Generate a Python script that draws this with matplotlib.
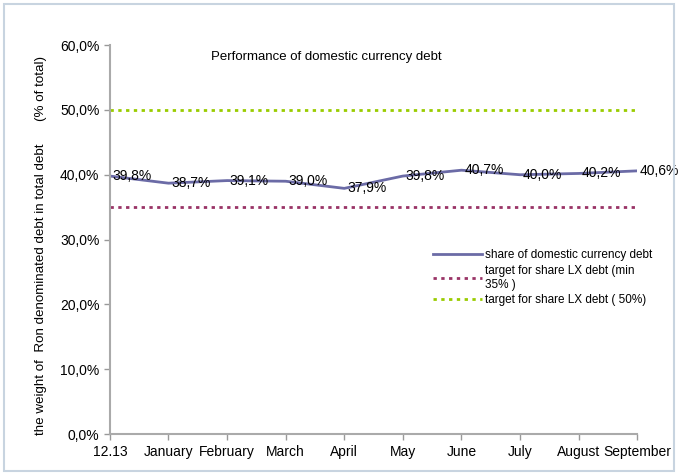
import matplotlib
matplotlib.use("Agg")
import matplotlib.pyplot as plt
from matplotlib.patches import Rectangle
from matplotlib.ticker import FuncFormatter

# ── data ──────────────────────────────────────────────────────────────────────
months = ["12.13", "January", "February", "March", "April", "May",
          "June", "July", "August", "September"]
share = [39.8, 38.7, 39.1, 39.0, 37.9, 39.8, 40.7, 40.0, 40.2, 40.6]
target_min = 35.0
target_max = 50.0

LINE_C = "#6b6ba6"
MIN_C = "#993366"
MAX_C = "#99cc00"

plt.rcParams["font.family"] = ["Liberation Sans", "DejaVu Sans"]

fig = plt.figure(figsize=(6.78, 4.74), dpi=100)
ax = fig.add_axes([0.162, 0.084, 0.778, 0.821])

x = list(range(len(months)))
ax.plot(x, share, color=LINE_C, linewidth=2, label="share of domestic currency debt")
ax.plot(x, [target_min] * len(x), color=MIN_C, linestyle=(0, (1.2, 1.6)),
        linewidth=2, label="target for share LX debt (min\n35% )")
ax.plot(x, [target_max] * len(x), color=MAX_C, linestyle=(0, (1.2, 1.6)),
        linewidth=2, label="target for share LX debt ( 50%)")

for xi, v in zip(x, share):
    ax.annotate(f"{v:.1f}%".replace(".", ","), (xi, v), xytext=(2, 0),
                textcoords="offset points", ha="left", va="center", fontsize=10)

ax.set_xlim(0, len(months) - 1)
ax.set_ylim(0, 60)
ax.set_yticks(range(0, 61, 10))
ax.yaxis.set_major_formatter(FuncFormatter(lambda v, p: f"{v:.1f}%".replace(".", ",")))
ax.set_xticks(x)
ax.set_xticklabels(months)
ax.tick_params(axis="both", labelsize=10, color="#999999", length=4, width=1)
ax.tick_params(axis="x", pad=4)
for s in ["top", "right"]:
    ax.spines[s].set_visible(False)
for s in ["left", "bottom"]:
    ax.spines[s].set_color("#aaaaaa")
    ax.spines[s].set_linewidth(1.5)

ax.text(0.41, 0.97, "Performance of domestic currency debt", transform=ax.transAxes,
        ha="center", va="center", fontsize=9.5)

fig.text(0.06, 0.482, "the weight of  Ron denominated debt in total debt      (% of total)",
         rotation=90, ha="center", va="center", fontsize=9.6)

ax.legend(loc="upper left", bbox_to_anchor=(0.603, 0.487), frameon=False, fontsize=8.5,
          handlelength=4.2, handletextpad=0.2, labelspacing=0.3, borderaxespad=0)

fig.patches.append(Rectangle((0.006, 0.006), 0.988, 0.986, transform=fig.transFigure,
                             fill=False, edgecolor="#c8d4e0", linewidth=1.5))

fig.savefig("out.png", dpi=100)
